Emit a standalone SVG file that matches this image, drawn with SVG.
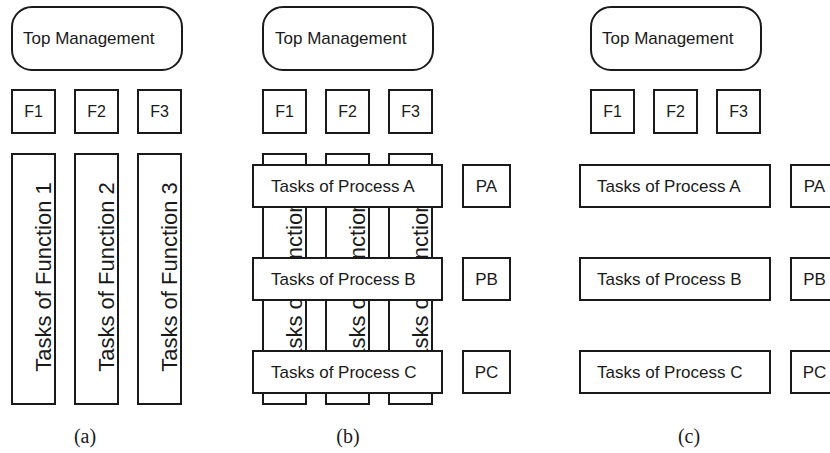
<svg xmlns="http://www.w3.org/2000/svg" width="830" height="453" viewBox="0 0 830 453">
<style>
.box{fill:#fff;stroke:#1a1a1a;stroke-width:2}
.t{font-family:"Liberation Sans",Arial,sans-serif;font-size:17px;fill:#1a1a1a}
.f{font-family:"Liberation Sans",Arial,sans-serif;font-size:16px;fill:#1a1a1a;text-anchor:middle}
.v{font-family:"Liberation Sans",Arial,sans-serif;font-size:22px;fill:#1a1a1a;text-anchor:middle}
.lbl{font-family:"Liberation Serif","Times New Roman",serif;font-size:20px;fill:#1a1a1a;text-anchor:middle}
</style>
<rect width="830" height="453" fill="#fff"/>
<!-- Panel (a) -->
<g id="a-top"><rect class="box" x="12" y="7" width="170" height="63" rx="20"/><text class="t" x="23" y="44">Top Management</text></g>
<g id="a-f1"><rect class="box" x="12" y="90" width="43" height="43"/><text class="f" x="33.5" y="117">F1</text></g>
<g id="a-f2"><rect class="box" x="75" y="90" width="43" height="43"/><text class="f" x="96.5" y="117">F2</text></g>
<g id="a-f3"><rect class="box" x="138" y="90" width="43" height="43"/><text class="f" x="159.5" y="117">F3</text></g>
<g id="a-col1"><rect class="box" x="12" y="154" width="43" height="250"/><text class="v" transform="translate(51,277) rotate(-90)">Tasks of Function 1</text></g>
<g id="a-col2"><rect class="box" x="75" y="154" width="43" height="250"/><text class="v" transform="translate(114,277) rotate(-90)">Tasks of Function 2</text></g>
<g id="a-col3"><rect class="box" x="138" y="154" width="43" height="250"/><text class="v" transform="translate(177,277) rotate(-90)">Tasks of Function 3</text></g>
<text class="lbl" x="85" y="443">(a)</text>
<!-- Panel (b) -->
<g id="b-top"><rect class="box" x="263" y="7" width="170" height="63" rx="20"/><text class="t" x="275" y="44">Top Management</text></g>
<g id="b-f1"><rect class="box" x="263" y="90" width="43" height="43"/><text class="f" x="284.5" y="117">F1</text></g>
<g id="b-f2"><rect class="box" x="326" y="90" width="43" height="43"/><text class="f" x="347.5" y="117">F2</text></g>
<g id="b-f3"><rect class="box" x="389" y="90" width="43" height="43"/><text class="f" x="410.5" y="117">F3</text></g>
<g id="b-col1"><rect class="box" x="263" y="154" width="43" height="250"/><text class="v" transform="translate(302,277) rotate(-90)">Tasks of Function 1</text></g>
<g id="b-col2"><rect class="box" x="326" y="154" width="43" height="250"/><text class="v" transform="translate(365,277) rotate(-90)">Tasks of Function 2</text></g>
<g id="b-col3"><rect class="box" x="389" y="154" width="43" height="250"/><text class="v" transform="translate(428,277) rotate(-90)">Tasks of Function 3</text></g>
<g id="b-procA"><rect class="box" x="253" y="165" width="189" height="42"/><text class="t" x="271" y="192">Tasks of Process A</text></g>
<g id="b-procB"><rect class="box" x="253" y="258" width="189" height="42"/><text class="t" x="271" y="285">Tasks of Process B</text></g>
<g id="b-procC"><rect class="box" x="253" y="351" width="189" height="42"/><text class="t" x="271" y="378">Tasks of Process C</text></g>
<g id="b-pa"><rect class="box" x="463" y="165" width="47" height="42"/><text class="f" x="486.5" y="192" style="font-size:17px">PA</text></g>
<g id="b-pb"><rect class="box" x="463" y="258" width="47" height="42"/><text class="f" x="486.5" y="285" style="font-size:17px">PB</text></g>
<g id="b-pc"><rect class="box" x="463" y="351" width="47" height="42"/><text class="f" x="486.5" y="378" style="font-size:17px">PC</text></g>
<text class="lbl" x="348" y="443">(b)</text>
<!-- Panel (c) -->
<g id="c-top"><rect class="box" x="591" y="7" width="170" height="63" rx="20"/><text class="t" x="602" y="44">Top Management</text></g>
<g id="c-f1"><rect class="box" x="591" y="90" width="43" height="43"/><text class="f" x="612.5" y="117">F1</text></g>
<g id="c-f2"><rect class="box" x="654" y="90" width="43" height="43"/><text class="f" x="675.5" y="117">F2</text></g>
<g id="c-f3"><rect class="box" x="717" y="90" width="43" height="43"/><text class="f" x="738.5" y="117">F3</text></g>
<g id="c-procA"><rect class="box" x="580" y="165" width="190" height="42"/><text class="t" x="597" y="192">Tasks of Process A</text></g>
<g id="c-procB"><rect class="box" x="580" y="258" width="190" height="42"/><text class="t" x="597" y="285">Tasks of Process B</text></g>
<g id="c-procC"><rect class="box" x="580" y="351" width="190" height="42"/><text class="t" x="597" y="378">Tasks of Process C</text></g>
<g id="c-pa"><rect class="box" x="791" y="165" width="47" height="42"/><text class="f" x="814.5" y="192" style="font-size:17px">PA</text></g>
<g id="c-pb"><rect class="box" x="791" y="258" width="47" height="42"/><text class="f" x="814.5" y="285" style="font-size:17px">PB</text></g>
<g id="c-pc"><rect class="box" x="791" y="351" width="47" height="42"/><text class="f" x="814.5" y="378" style="font-size:17px">PC</text></g>
<text class="lbl" x="689" y="443">(c)</text>
<g id="connectors"/>
</svg>
